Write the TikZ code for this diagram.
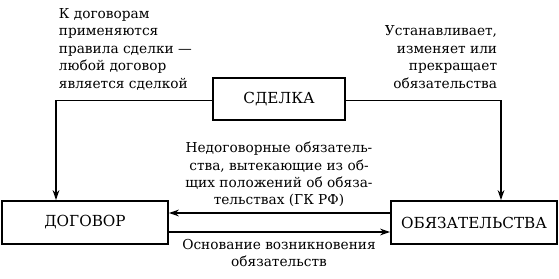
\documentclass[tikz,border=0pt]{standalone}
\usepackage{fontspec}
\setmainfont{DejaVu Serif}
\usepackage{tikz}
\usetikzlibrary{positioning,calc,arrows.meta}
\tikzset{
  termbox/.style={draw, line width=1.4pt, minimum height=1.29cm, inner sep=2pt,
    font=\fontsize{13}{15}\selectfont},
  link/.style={line width=1.2pt},
  linkarrow/.style={line width=1.2pt, -{Stealth[length=3mm, width=2mm]}},
  note/.style={inner sep=0pt, font=\fontsize{11.7}{14.9}\selectfont}
}

\begin{document}
\begin{tikzpicture}
  \useasboundingbox (0, 0) rectangle (16.77, 8.34);

  % three main terms
  \node[termbox, minimum width=3.96cm, minimum height=1.26cm] (deal) at (8.37, 5.37) {СДЕЛКА};
  \node[termbox, minimum width=4.98cm] (contract) at (2.55, 1.665) {ДОГОВОР};
  \node[termbox, minimum width=4.98cm] (oblig) at (14.22, 1.665) {ОБЯЗАТЕЛЬСТВА};

  % from the deal down to both sides
  \coordinate (turnL) at (1.68, 5.33);
  \coordinate (turnR) at (15.03, 5.33);
  \draw[link] (deal.west |- turnL) -- (turnL);
  \draw[linkarrow] (turnL) -- (turnL |- contract.north);
  \draw[link] (deal.east |- turnR) -- (turnR);
  \draw[linkarrow] (turnR) -- (turnR |- oblig.north);

  % between contract and obligations
  \draw[linkarrow] ($(oblig.west)+(0, 0.285)$) -- ($(contract.east)+(0, 0.285)$);
  \draw[linkarrow] ($(contract.east)+(0, -0.285)$) -- ($(oblig.west)+(0, -0.285)$);

  % notes
  \node[note, anchor=north west, align=left] (noteL) at (1.76, 8.1)
    {К договорам\\применяются\\правила сделки —\\любой договор\\является сделкой};
  \node[note, anchor=north east, align=right] (noteR) at (14.92, 7.57)
    {Устанавливает,\\изменяет или\\прекращает\\обязательства};
  \node[note, anchor=south, align=center] (noteM) at (8.37, 2.12)
    {Недоговорные обязатель-\\ства, вытекающие из об-\\щих положений об обяза-\\тельствах (ГК РФ)};
  \node[note, anchor=north, align=center] (noteB) at (8.37, 1.17)
    {Основание возникновения\\обязательств};
\end{tikzpicture}
\end{document}
